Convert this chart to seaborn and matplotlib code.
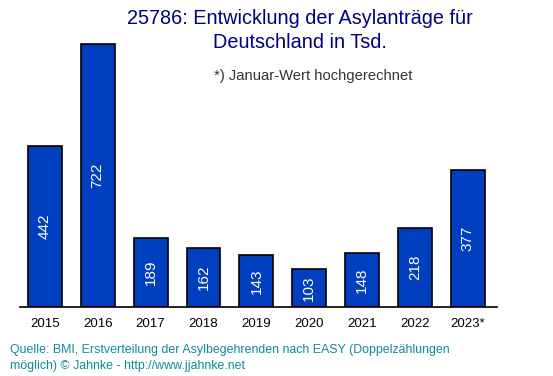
import matplotlib
matplotlib.use("Agg")
import matplotlib.pyplot as plt
import seaborn as sns
import pandas as pd

# Data (thousands of asylum applications)
years = ["2015", "2016", "2017", "2018", "2019", "2020", "2021", "2022", "2023*"]
values = [442, 722, 189, 162, 143, 103, 148, 218, 377]

df = pd.DataFrame({"year": years, "value": values})

sns.set_style("white")
plt.rcParams['font.family'] = ['Liberation Sans', 'DejaVu Sans']

fig = plt.figure(figsize=(5.53, 3.76), dpi=100)
ax = fig.add_axes([20/553, 69/376, 477/553, 307/376])

sns.barplot(data=df, x="year", y="value", color="#0040c0", width=0.64,
            edgecolor="black", linewidth=1.2, saturation=1, ax=ax)

# value labels, rotated, white, centered in bar
for i, v in enumerate(values):
    ax.text(i, v / 2, str(v), rotation=90, ha="center", va="center",
            color="white", fontsize=11)

ax.set_xlim(-0.47, 8.55)
ax.set_ylim(0, 843)
ax.set_xlabel("")
ax.set_ylabel("")
ax.set_yticks([])
ax.tick_params(axis="x", length=0, pad=8, labelsize=9.5, colors="black")
sns.despine(ax=ax, left=True, top=True, right=True)
ax.spines["bottom"].set_color("black")
ax.spines["bottom"].set_linewidth(1.2)
ax.patch.set_alpha(0)

fig.text(300/553, 1 - 19/376, "25786: Entwicklung der Asylanträge für",
         ha="center", va="center", color="#000080", fontsize=14.3)
fig.text(300/553, 1 - 43/376, "Deutschland in Tsd.",
         ha="center", va="center", color="#000080", fontsize=14.3)
fig.text(313/553, 1 - 76/376, "*) Januar-Wert hochgerechnet",
         ha="center", va="center", color="#333333", fontsize=10.6)

fig.text(10/553, 1 - 350/376,
         "Quelle: BMI, Erstverteilung der Asylbegehrenden nach EASY (Doppelzählungen",
         ha="left", va="center", color="#108a9a", fontsize=8.9)
fig.text(10/553, 1 - 366/376, "möglich) © Jahnke - http://www.jjahnke.net",
         ha="left", va="center", color="#108a9a", fontsize=8.9)

fig.savefig("out.png", dpi=100)
